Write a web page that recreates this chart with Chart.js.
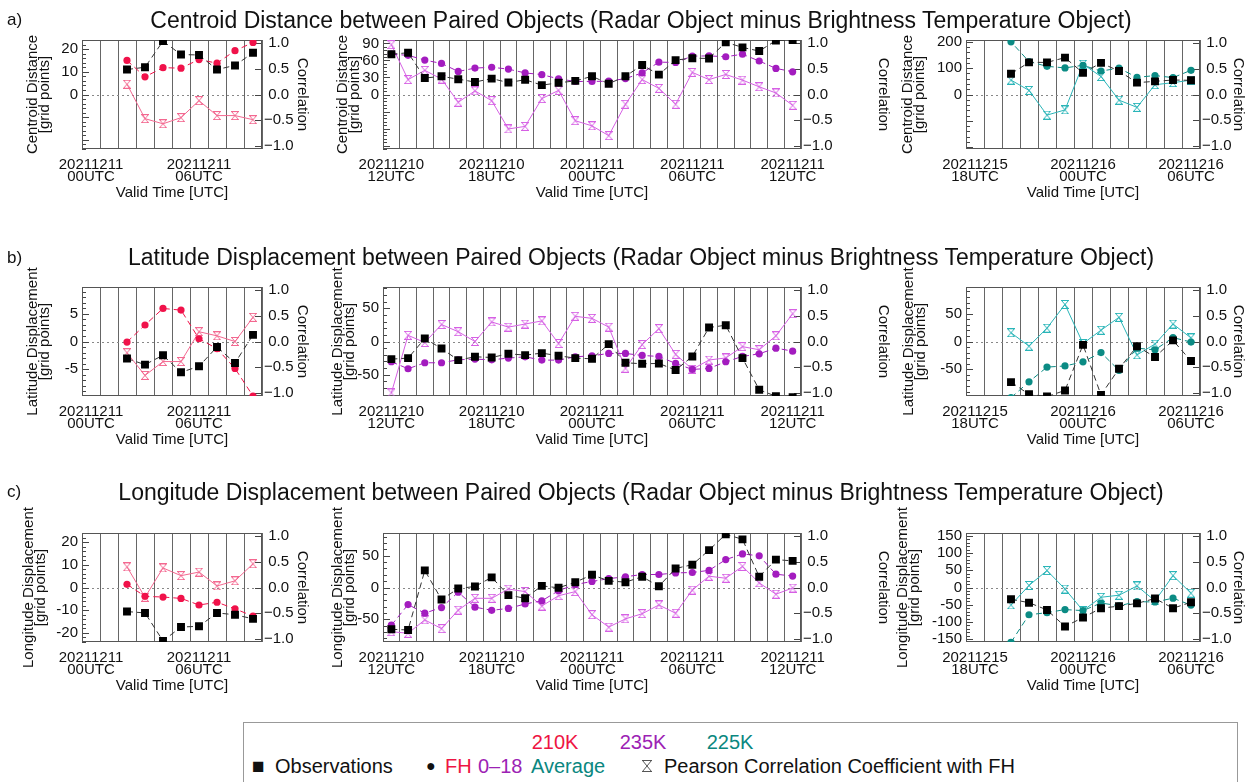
<!DOCTYPE html>
<html>
<head>
<meta charset="utf-8">
<script src="https://cdn.jsdelivr.net/npm/chart.js@4"></script>
<style>
  body { margin:0; width:1252px; height:782px; background:#fff; position:relative; overflow:hidden;
         font-family:"Liberation Sans", Arial, Helvetica, sans-serif; color:#111; }
  canvas { position:absolute; }
  .txt { position:absolute; white-space:nowrap; transform:translateY(-50%); }
  .ctr { position:absolute; white-space:nowrap; transform:translate(-50%,-50%); }
  .ttl { font-size:23px; }
  .tag { font-size:17px; }
  .lg { font-size:20px; }
  #legbox { position:absolute; left:243px; top:722px; width:993px; height:70px; border:1px solid #999; }
</style>
</head>
<body>

<div class="txt tag" style="left:7px;top:20px">a)</div>
<div class="ctr ttl" style="left:641px;top:20px">Centroid Distance between Paired Objects (Radar Object minus Brightness Temperature Object)</div>
<div class="txt tag" style="left:7px;top:258px">b)</div>
<div class="ctr ttl" style="left:641px;top:257px">Latitude Displacement between Paired Objects (Radar Object minus Brightness Temperature Object)</div>
<div class="txt tag" style="left:7px;top:492px">c)</div>
<div class="ctr ttl" style="left:641px;top:492px">Longitude Displacement between Paired Objects (Radar Object minus Brightness Temperature Object)</div>

<div id="legbox"></div>
<div class="ctr lg" style="left:555px;top:742px;color:#ee1443">210K</div>
<div class="ctr lg" style="left:643px;top:742px;color:#9c22b4">235K</div>
<div class="ctr lg" style="left:730px;top:742px;color:#0a8780">225K</div>
<div class="txt lg" style="left:252px;top:766px;font-size:21px">&#9632;</div>
<div class="txt lg" style="left:275px;top:766px">Observations</div>
<div class="txt lg" style="left:426px;top:766px;font-size:16px">&#9679;</div>
<div class="txt lg" style="left:445px;top:766px;color:#ee1443">FH</div>
<div class="txt lg" style="left:478px;top:766px;color:#9c22b4">0&#8211;18</div>
<div class="txt lg" style="left:531px;top:766px;color:#0a8780">Average</div>
<div class="txt lg" style="left:664px;top:766px">Pearson Correlation Coefficient with FH</div>

<script>
// x categories (valid times); last left-column entry lies just past the axis
var hoursLeft = ['20211211 00UTC','20211211 01UTC','20211211 02UTC','20211211 03UTC','20211211 04UTC',
  '20211211 05UTC','20211211 06UTC','20211211 07UTC','20211211 08UTC','20211211 09UTC','20211211 10UTC'];
var hoursMid = ['20211210 12UTC','20211210 13UTC','20211210 14UTC','20211210 15UTC','20211210 16UTC',
  '20211210 17UTC','20211210 18UTC','20211210 19UTC','20211210 20UTC','20211210 21UTC','20211210 22UTC',
  '20211210 23UTC','20211211 00UTC','20211211 01UTC','20211211 02UTC','20211211 03UTC','20211211 04UTC',
  '20211211 05UTC','20211211 06UTC','20211211 07UTC','20211211 08UTC','20211211 09UTC','20211211 10UTC',
  '20211211 11UTC','20211211 12UTC'];
var hoursRight = ['20211215 18UTC','20211215 19UTC','20211215 20UTC','20211215 21UTC','20211215 22UTC',
  '20211215 23UTC','20211216 00UTC','20211216 01UTC','20211216 02UTC','20211216 03UTC','20211216 04UTC',
  '20211216 05UTC','20211216 06UTC'];
var labelAtLeft = [0, 6];
var labelAtMid = [0, 6, 12, 18, 24];
var labelAtRight = [0, 6, 12];

// a) centroid distance
var cdObs210 = [null,null,11,12,23.5,17.6,17.4,11,12.8,18.4,6];
var cdFH210  = [null,null,15,7.8,11.8,11.6,15.4,13.8,19.3,22.9];
var cdCor210 = [null,null,0.2,-0.47,-0.57,-0.45,-0.12,-0.41,-0.41,-0.49];
var cdObs235 = [71,73.5,29,32,27,22,28,21,26,16.5,20.6,24,32,19,32,52,35,60.6,64,63.5,92,83,76.5,95,96];
var cdFH235  = [71,69,60.6,54.7,40.6,46.5,48,44.7,38,35,27.6,23,23,23.5,28,38,57,56.5,67.6,68,66.5,71,59,46,40];
var cdCor235 = [0.97,0.29,0.47,0.3,-0.15,0.07,-0.12,-0.67,-0.62,-0.08,0.08,-0.51,-0.61,-0.8,-0.19,0.29,0.12,-0.19,0.43,0.29,0.39,0.28,0.15,0.03,-0.21];
var cdObs225 = [null,null,79,122,122,140,82,120,89,45,50,55,54];
var cdFH225  = [null,260,200,125,107,101,111,89,100,65,72,64,92];
var cdCor225 = [null,null,0.28,0.08,-0.4,-0.3,0.59,0.35,-0.11,-0.25,0.19,0.23,0.28];

// b) latitude displacement
var latObs210 = [null,null,-3.1,-4.2,-2.5,-5.6,-4.5,-1,-3.9,1.2];
var latFH210  = [null,null,-0.1,3,6,5.7,0.5,-1.3,-4.9,-9.9];
var latCor210 = [null,null,-0.22,-0.66,-0.39,-0.39,0.19,0.11,0,0.47];
var latObs235 = [-26.5,-25,4.5,-10.5,-28,-23,-24,-18.5,-20.5,-17.5,-21.5,-25,-26,-4,-32,-33.5,-33,-43,-22.5,21,24.5,-25,-72.5,-82.5,-84];
var latFH235  = [-30.5,-41,-32,-32,-27.5,-26.5,-27.5,-25,-23,-28,-28,-23,-21.5,-18,-18,-21,-22.5,-33,-42,-40.5,-30.5,-22.5,-18.5,-10,-14.5];
var latCor235 = [-1,0.12,-0.02,0.33,0.19,0,0.38,0.28,0.34,0.4,-0.04,0.49,0.45,0.28,-0.52,-0.06,0.25,-0.25,-0.54,-0.36,-0.32,-0.1,-0.16,0.11,0.54];
var latObs225 = [null,null,-73,-95,-99,-88,-6,-96,-49,-8.5,-28,2,-35];
var latFH225  = [null,null,-101,-72.5,-46,-44,-36.6,-20,-52,-12,-15,7,-1];
var latCor225 = [null,null,0.17,-0.09,0.26,0.72,-0.04,0.22,0.47,-0.26,-0.05,0.34,0.07];

// c) longitude displacement
var lonObs210 = [null,null,-10.6,-11.2,-23.5,-17.4,-17.1,-11.2,-12,-13.8,-2.5];
var lonFH210  = [null,null,1.4,-3.9,-4.2,-4.8,-7.7,-6.5,-9.4,-12.6];
var lonCor210 = [null,null,0.4,-0.19,0.38,0.23,0.3,0.03,0.13,0.46];
var lonObs235 = [-66,-67,27,-19,-1.6,1.6,16,-12,-17,2.6,-0.5,8.4,20,10.5,8.4,17,2,30,36,59,84,76,17,44,42];
var lonFH235  = [-59.5,-27,-40.5,-31.6,-7.4,-31,-36,-33,-26,-21,-5,4.7,9.5,14,17,20.5,20.5,23,23.7,27,44,53,50,21,18];
var lonCor235 = [-0.86,-0.89,-0.63,-0.8,-0.44,-0.21,-0.21,-0.03,-0.08,-0.36,-0.16,-0.08,-0.53,-0.77,-0.61,-0.51,-0.34,-0.5,-0.05,0.22,0.18,0.41,0.09,-0.13,-0.01];
var lonObs225 = [null,null,-34,-44,-65,-113,-87,-60,-54,-46,-32,-60,-43];
var lonFH225  = [null,null,-159,-79,-73,-64,-67,-45,-53,-41,-42,-31,-51];
var lonCor225 = [null,null,-0.34,0.04,0.33,-0.03,-0.45,-0.19,-0.15,0.03,-0.26,0.23,-0.11];

var FONT = '"Liberation Sans", Arial, Helvetica, sans-serif';
Chart.defaults.font.family = FONT;
Chart.defaults.color = '#111';

var col210 = { fh: '#f0124a', cor: '#f36890' };
var col235 = { fh: '#a31cbf', cor: '#d660e4' };
var col225 = { fh: '#0b8b84', cor: '#2ab5b8' };

function hourglass(color, w, h) {
  var c = document.createElement('canvas');
  c.width = w; c.height = h;
  var g = c.getContext('2d');
  g.strokeStyle = color; g.lineWidth = 1;
  g.beginPath();
  g.moveTo(0, 0.5); g.lineTo(w, 0.5);
  g.moveTo(0, h - 0.5); g.lineTo(w, h - 0.5);
  g.moveTo(0.5, 0.5); g.lineTo(w - 0.5, h - 0.5);
  g.moveTo(w - 0.5, 0.5); g.lineTo(0.5, h - 0.5);
  g.stroke();
  return c;
}

function num(v) { return v < 0 ? '-' + (-v) : String(v); }

// frame, dotted zero line and inward ticks
var framePlugin = {
  id: 'frame',
  beforeDatasetsDraw: function(chart, args, opts) {
    var a = chart.chartArea, ctx = chart.ctx, y = chart.scales.y, y1 = chart.scales.y1;
    ctx.save();
    ctx.lineWidth = 1;
    ctx.strokeStyle = '#888';
    ctx.setLineDash([2, 3]);
    var z = Math.round(y.getPixelForValue(0)) + 0.5;
    ctx.beginPath(); ctx.moveTo(a.left, z); ctx.lineTo(a.right, z); ctx.stroke();
    ctx.setLineDash([]);
    ctx.strokeStyle = '#444';
    ctx.beginPath();
    var ms = opts.step / 5;
    for (var v = Math.ceil(y.min / ms) * ms; v <= y.max; v += ms) {
      var py = Math.round(y.getPixelForValue(v)) + 0.5;
      var isMajor = Math.abs(v / opts.step - Math.round(v / opts.step)) < 1e-6;
      ctx.moveTo(a.left, py); ctx.lineTo(a.left + (isMajor ? 7 : 4), py);
    }
    y1.ticks.forEach(function(t) {
      var py = Math.round(y1.getPixelForValue(t.value)) + 0.5;
      ctx.moveTo(a.right, py); ctx.lineTo(a.right - 7, py);
    });
    ctx.stroke();
    ctx.strokeStyle = '#555';
    ctx.strokeRect(Math.round(a.left) + 0.5, Math.round(a.top) + 0.5, Math.round(a.width) - 1, Math.round(a.height) - 1);
    ctx.restore();
  }
};

function panel(p) {
  var PT = 40, XH = 53, PH = 109;
  var cv = document.createElement('canvas');
  var w = p.wl + p.pw + p.wr, h = PT + PH + XH;
  cv.width = w; cv.height = h;
  cv.style.left = p.x + 'px'; cv.style.top = (p.top - PT) + 'px';
  cv.style.width = w + 'px'; cv.style.height = h + 'px';
  document.body.insertBefore(cv, document.body.firstChild);
  var dash = [6, 4];
  new Chart(cv, {
    type: 'line',
    data: {
      labels: p.cats,
      datasets: [
        { data: p.obs, yAxisID: 'y', borderColor: '#333', borderWidth: 1, borderDash: dash,
          pointStyle: 'rect', pointRadius: 5.6, pointBackgroundColor: '#000', pointBorderWidth: 0 },
        { data: p.fh, yAxisID: 'y', borderColor: p.col.fh, borderWidth: 1, borderDash: dash,
          pointStyle: 'circle', pointRadius: 3.6, pointBackgroundColor: p.col.fh, pointBorderWidth: 0 },
        { data: p.cor, yAxisID: 'y1', borderColor: p.col.cor, borderWidth: 1,
          pointStyle: hourglass(p.col.cor, 8, 9), pointRadius: 4 }
      ]
    },
    options: {
      responsive: false, animation: false, events: [],
      layout: { padding: { top: PT, left: 0, right: 0, bottom: 0 } },
      plugins: { legend: { display: false }, tooltip: { enabled: false }, frame: { step: p.step } },
      scales: {
        x: {
          type: 'category', offset: true, max: p.max,
          grid: { offset: true, color: '#666', lineWidth: 1, drawTicks: false },
          border: { display: false },
          ticks: { autoSkip: false, maxRotation: 0, minRotation: 0, padding: 10,
                   font: { size: 15, lineHeight: 0.8 }, color: '#111',
                   callback: function(v, i) { return p.labelAt.indexOf(i) >= 0 ? p.cats[v].split(' ') : ''; } },
          title: { display: true, text: 'Valid Time [UTC]', font: { size: 15, lineHeight: 1.2 }, color: '#111',
                   padding: { top: 0, bottom: 0 } },
          afterFit: function(s) { s.height = XH; }
        },
        y: {
          position: 'left', min: -p.lim, max: p.lim,
          grid: { display: false, drawTicks: false }, border: { display: false },
          ticks: { stepSize: p.step, includeBounds: false, autoSkip: false, padding: 4, font: { size: 15 }, color: '#111',
                   callback: function(v) { return (p.posOnly && v < 0) ? '' : num(v); } },
          title: { display: true, text: [p.ytitle, '[grid points]'], font: { size: 15, lineHeight: 0.78 },
                   color: '#111', padding: { top: p.tpad, bottom: 0 } },
          afterFit: function(s) { s.width = p.wl; }
        },
        y1: {
          position: 'right', min: -1.06, max: 1.06,
          grid: { display: false, drawTicks: false }, border: { display: false },
          ticks: { stepSize: 0.5, includeBounds: false, autoSkip: false, padding: 2, font: { size: 15 }, color: '#111',
                   callback: function(v) { return (v < 0 ? '\u2212' : ' ') + Math.abs(v).toFixed(1); } },
          title: { display: true, text: 'Correlation', font: { size: 15, lineHeight: 1.2 }, color: '#111',
                   padding: { top: p.rpad, bottom: 0 } },
          afterFit: function(s) { s.width = p.wr; }
        }
      }
    },
    plugins: [framePlugin]
  });
}

var L = { x: 0, wl: 82, pw: 180, wr: 50, cats: hoursLeft, labelAt: labelAtLeft, max: '20211211 09UTC', col: col210, rpad: 1 };
var M = { x: 300, wl: 83, pw: 418, wr: 99, cats: hoursMid, labelAt: labelAtMid, max: undefined, col: col235, rpad: 8 };
var R = { x: 876, wl: 90, pw: 234, wr: 52, cats: hoursRight, labelAt: labelAtRight, max: undefined, col: col225, rpad: 5 };

var rows = [
  { top: 40, ytitle: 'Centroid Distance', posOnly: true, panels: [
    { base: L, obs: cdObs210, fh: cdFH210, cor: cdCor210, lim: 24, step: 10, tpad: 27 },
    { base: M, obs: cdObs235, fh: cdFH235, cor: cdCor235, lim: 96, step: 30, tpad: 37 },
    { base: R, obs: cdObs225, fh: cdFH225, cor: cdCor225, lim: 207, step: 100, tpad: 26 } ] },
  { top: 287, ytitle: 'Latitude Displacement', posOnly: false, panels: [
    { base: L, obs: latObs210, fh: latFH210, cor: latCor210, lim: 9.9, step: 5, tpad: 27 },
    { base: M, obs: latObs235, fh: latFH235, cor: latCor235, lim: 82, step: 50, tpad: 32 },
    { base: R, obs: latObs225, fh: latFH225, cor: latCor225, lim: 98, step: 50, tpad: 27 } ] },
  { top: 533, ytitle: 'Longitude Displacement', posOnly: false, panels: [
    { base: L, obs: lonObs210, fh: lonFH210, cor: lonCor210, lim: 24, step: 10, tpad: 23 },
    { base: M, obs: lonObs235, fh: lonFH235, cor: lonCor235, lim: 86, step: 50, tpad: 32 },
    { base: R, obs: lonObs225, fh: lonFH225, cor: lonCor225, lim: 158, step: 50, tpad: 21 } ] }
];

rows.forEach(function(r) {
  r.panels.forEach(function(q) {
    var b = q.base;
    panel({ x: b.x, wl: b.wl, pw: b.pw, wr: b.wr, cats: b.cats, labelAt: b.labelAt, max: b.max, col: b.col,
            rpad: b.rpad, top: r.top, ytitle: r.ytitle, posOnly: r.posOnly,
            obs: q.obs, fh: q.fh, cor: q.cor, lim: q.lim, step: q.step, tpad: q.tpad });
  });
});

// legend hourglass symbol
var hg = hourglass('#555', 10, 12);
hg.style.left = '642px'; hg.style.top = '760px';
document.body.appendChild(hg);
</script>
</body>
</html>
